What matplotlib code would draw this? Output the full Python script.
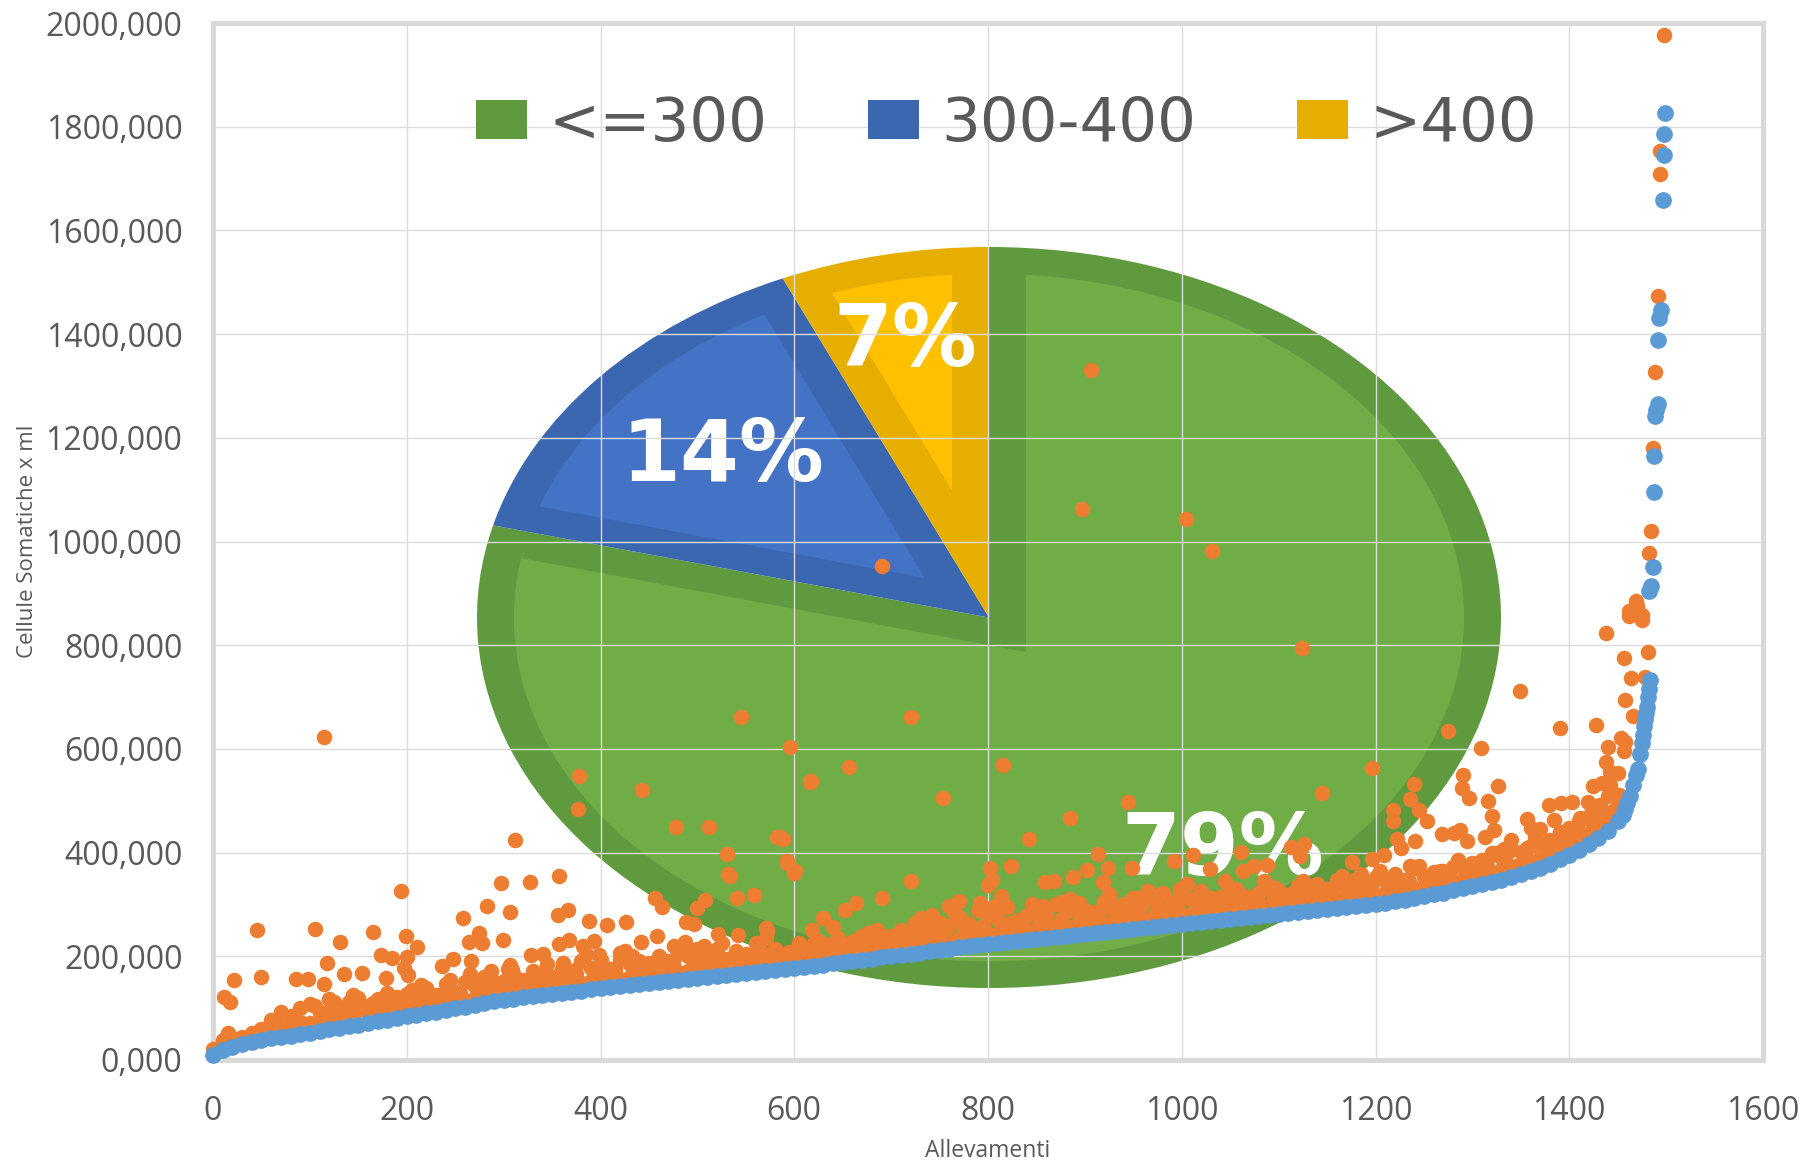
import matplotlib
matplotlib.use("Agg")
import numpy as np
import matplotlib.pyplot as plt
from matplotlib.patches import Wedge, Circle, Patch

W, H = 1805, 1163
plt.rcParams['font.family'] = ['Open Sans', 'DejaVu Sans']
GRAY = '#595959'

# ---------- data ----------
pie_labels = ['<=300', '300-400', '>400']
pie_values = [79, 14.4, 6.6]
pie_texts = ['79%', '14%', '7%']
xticks = [0, 200, 400, 600, 800, 1000, 1200, 1400, 1600]
yticks = [0, 200, 400, 600, 800, 1000, 1200, 1400, 1600, 1800, 2000]
ytick_labels = ['0,000', '200,000', '400,000', '600,000', '800,000', '1000,000',
                '1200,000', '1400,000', '1600,000', '1800,000', '2000,000']

# blue series: read every 10 herds along the curve
blue_main_y = [10, 19, 26, 31, 35, 39, 42, 45, 47, 50,
               53, 56, 59, 62, 65, 68, 71, 75, 78, 81,
               84, 87, 90, 93, 96, 100, 103, 106, 110, 113,
               116, 118, 121, 123, 125, 128, 130, 132, 134, 137,
               139, 141, 143, 145, 147, 149, 151, 152, 154, 156,
               158, 160, 162, 164, 166, 168, 170, 172, 174, 176,
               178, 180, 182, 184, 187, 189, 191, 193, 195, 198,
               200, 202, 205, 207, 210, 212, 214, 217, 219, 222,
               224, 226, 228, 230, 232, 234, 235, 237, 239, 241,
               243, 245, 247, 249, 251, 253, 255, 257, 259, 260,
               262, 264, 266, 268, 270, 272, 274, 276, 278, 280,
               282, 284, 286, 288, 289, 291, 293, 295, 297, 298,
               300, 303, 306, 309, 312, 316, 320, 323, 327, 331,
               335, 340, 344, 348, 352, 358, 364, 370, 378, 387,
               396, 405, 416, 428, 442, 460]
blue_main_x = list(range(0, 1460, 10))
blue_tail_x = [1455, 1458, 1460, 1463, 1466, 1469, 1471, 1473, 1475, 1476, 1477, 1478,
               1479, 1480, 1481, 1482, 1483, 1482, 1484, 1486, 1487.5, 1487.5, 1488, 1490,
               1492, 1492, 1493, 1495, 1496.5, 1497.5, 1497.5, 1499]
blue_tail_y = [472, 485, 495, 510, 530, 550, 562, 590, 612, 626, 645, 658,
               670, 680, 700, 715, 732, 905, 915, 951, 1096, 1165, 1243, 1254,
               1265, 1389, 1432, 1446, 1658, 1745, 1786, 1827]

# orange series: lower edge of the dense band
orange_low_y = [22, 38, 42, 44, 52, 60, 58, 66, 70, 74,
                72, 78, 84, 80, 86, 96, 90, 94, 100, 98,
                100, 106, 104, 108, 112, 118, 116, 120, 126, 128,
                132, 134, 136, 138, 142, 140, 144, 150, 148, 152,
                156, 158, 156, 160, 164, 166, 168, 166, 170, 172,
                176, 174, 178, 182, 182, 184, 186, 190, 188, 192,
                194, 196, 198, 200, 204, 204, 206, 210, 210, 214,
                216, 220, 222, 222, 226, 230, 230, 234, 236, 240,
                242, 244, 244, 248, 248, 252, 254, 252, 256, 258,
                260, 264, 262, 266, 270, 268, 272, 276, 276, 278,
                280, 282, 286, 284, 288, 292, 290, 294, 298, 298,
                300, 304, 302, 306, 310, 308, 312, 314, 316, 316,
                318, 322, 324, 328, 332, 336, 340, 342, 346, 350,
                352, 358, 362, 366, 370, 376, 382, 390, 398, 406,
                414, 424, 436, 450, 468, 490]
orange_low_x = list(range(0, 1460, 10))
# orange series: irregular upper edge of the dense band
orange_high_y = [78, 92, 85, 100,
                 108, 92, 118, 100, 112, 120, 104, 118, 130, 122,
                 128, 120, 138, 126, 146, 132, 150, 142, 160, 150,
                 152, 166, 155, 172, 168, 160, 175, 165, 190, 178,
                 192, 175, 195, 185, 190, 188, 200, 190, 205, 200,
                 215, 200, 215, 195, 210, 205, 225, 200, 215, 205,
                 205, 210, 225, 215, 225, 222, 228, 240, 230, 235,
                 240, 250, 245, 258, 252, 265, 258, 275, 262, 290,
                 280, 272, 295, 270, 280, 290, 282, 300, 285, 292,
                 290, 285, 305, 290, 300, 312, 300, 310, 320, 305,
                 322, 310, 325, 312, 315, 330, 320, 315, 322, 335,
                 325, 318, 335, 322, 340, 330, 345, 335, 350, 340,
                 352, 345, 358, 348, 370, 355, 362, 365, 372, 375,
                 380, 385, 395, 392, 405, 402, 412, 418, 425, 440,
                 445, 460, 470, 490, 510]
orange_high_x = list(range(60, 1450, 10))
# orange series: extra points inside the dense band
orange_fill_y = [105, 112, 125, 110, 122, 135, 112, 155, 165, 135,
                 175, 150, 185, 155, 205, 165, 210, 175, 190, 215,
                 190, 225, 190, 210, 200, 225, 205, 235, 220, 250,
                 225, 265, 240, 285, 255, 295, 265, 300, 265, 310,
                 275, 320, 280, 325, 290, 340, 300, 345, 300, 345,
                 315, 345, 320, 355, 330, 365, 340, 375, 345, 385,
                 360, 400, 375, 430, 400, 440, 455, 480]
orange_fill_x = list(range(105, 1446, 20))
orange_fill2_y = [90, 98, 100, 108, 112, 118, 125, 130, 140, 145,
                  152, 155, 160, 165, 170, 175, 180, 183, 186, 190,
                  193, 196, 200, 205, 208, 214, 218, 222, 226, 232,
                  238, 242, 248, 252, 258, 262, 266, 270, 272, 278,
                  282, 285, 290, 294, 298, 302, 306, 310, 314, 318,
                  322, 326, 328, 332, 336, 340, 346, 352, 358, 366,
                  374, 382, 392, 404, 418, 436, 462, 500]
orange_fill2_x = list(range(115, 1456, 20))
# orange series: points scattered left of x = 600
orange_left_x = [115, 45, 22, 50, 11, 18, 15, 105, 131, 118, 86, 98, 135, 115, 154, 165, 199, 211,
                 173, 185, 200, 197, 201, 194, 312, 297, 327, 357, 283, 307, 258, 356, 366, 388,
                 407, 426, 275, 264, 278, 299, 357, 367, 393, 382, 442, 458, 456, 463, 508, 500,
                 443, 377, 478, 512, 585, 531, 532, 541, 558, 488, 496, 521, 542, 476, 487, 507,
                 328, 341, 307, 309, 236, 248, 266, 287, 179, 215, 571, 571, 361, 374, 398, 420,
                 433, 463, 378, 545, 596, 588, 592, 600, 534]
orange_left_y = [622, 250, 155, 161, 121, 112, 52, 253, 228, 188, 157, 156, 166, 147, 168, 246, 239, 217,
                 203, 197, 199, 177, 164, 326, 425, 342, 344, 354, 297, 285, 274, 279, 290, 269,
                 260, 266, 245, 228, 225, 232, 223, 232, 229, 219, 228, 239, 313, 295, 308, 294,
                 521, 485, 450, 450, 431, 398, 358, 312, 319, 266, 263, 243, 242, 219, 228, 219,
                 203, 205, 184, 174, 181, 194, 190, 171, 158, 145, 255, 235, 187, 174, 203, 206,
                 201, 193, 548, 661, 604, 426, 380, 360, 355]
# orange series: points scattered between x = 600 and x = 1210
orange_mid_x = [906, 897, 1004, 1031, 1124, 691, 721, 616, 656, 815, 1196, 617, 754, 944, 1145, 885,
                842, 914, 1012, 992, 1061, 1113, 1126, 1122, 1176, 1196, 949, 1029, 1063, 1075, 1088,
                924, 902, 888, 919, 859, 868, 802, 824, 804, 800, 721, 691, 664, 652, 630, 640, 618,
                626, 601, 593, 582, 1056, 1096, 1122, 1160, 1185, 998, 981, 953, 926, 876, 894, 847,
                857, 813, 818, 792, 770, 760, 742, 731, 709, 676, 664, 572]
orange_mid_y = [1330, 1063, 1043, 981, 795, 952, 661, 537, 566, 568, 564, 539, 506, 497, 514, 466,
                427, 398, 395, 384, 401, 410, 416, 393, 381, 387, 371, 368, 364, 374, 376,
                371, 366, 353, 344, 344, 346, 370, 374, 348, 337, 346, 313, 303, 290, 274, 257, 250,
                229, 364, 384, 430, 329, 332, 332, 348, 358, 329, 322, 313, 306, 305, 303, 294,
                297, 316, 297, 303, 306, 297, 279, 274, 247, 245, 232, 248]
# orange series: points scattered right of x = 1205
orange_right_x = [1438, 1462, 1470, 1475, 1481, 1457, 1464, 1478, 1458, 1466, 1349, 1390, 1428, 1453,
                  1458, 1457, 1440, 1438, 1442, 1450, 1425, 1434, 1442, 1275, 1309, 1290, 1289, 1297,
                  1326, 1316, 1320, 1240, 1236, 1245, 1253, 1218, 1218, 1222, 1226, 1241, 1269, 1281,
                  1287, 1294, 1313, 1322, 1340, 1356, 1384, 1379, 1391, 1403, 1419, 1360, 1370, 1366,
                  1209, 1236, 1243, 1267, 1283, 1207, 1320, 1333, 1356, 1382, 1411, 1432, 1451, 1425,
                  1400, 1498, 1494, 1494, 1492, 1488, 1486, 1484, 1482, 1469, 1462, 1475]
orange_right_y = [824, 856, 875, 848, 787, 776, 736, 738, 695, 663, 712, 640, 647, 621,
                  613, 596, 604, 575, 556, 554, 528, 534, 530, 634, 601, 549, 524, 505,
                  529, 500, 470, 532, 503, 482, 461, 482, 460, 427, 409, 422, 436, 438,
                  444, 422, 431, 443, 425, 465, 463, 492, 495, 498, 498, 447, 445, 422,
                  396, 374, 371, 364, 377, 355, 399, 406, 409, 419, 466, 492, 511, 482,
                  447, 1977, 1753, 1708, 1473, 1326, 1181, 1021, 977, 885, 865, 858]

orange_x = (orange_low_x + orange_high_x + orange_fill_x + orange_fill2_x
            + orange_left_x + orange_mid_x + orange_right_x)
orange_y = (orange_low_y + orange_high_y + orange_fill_y + orange_fill2_y
            + orange_left_y + orange_mid_y + orange_right_y)
blue_x = blue_main_x + blue_tail_x
blue_y = blue_main_y + blue_tail_y

# ---------- figure ----------
fig = plt.figure(figsize=(W / 100, H / 100), dpi=100, facecolor='white')

def box(l, t, r, b):
    return [l / W, 1 - b / H, (r - l) / W, (b - t) / H]

# pie layer (stretched into an ellipse, sits beneath the scatter)
pax = fig.add_axes(box(477, 247, 1501, 988), zorder=0)
dark = ['#5F9A3E', '#3B66B0', '#E6AE00']
light = ['#70AD47', '#4472C4', '#FFC000']
wedges, _ = pax.pie(pie_values, colors=dark, startangle=90, counterclock=False, radius=1, frame=False)
pax.set_xlim(-1, 1)
pax.set_ylim(-1, 1)
pax.set_aspect('auto')
inset = 0.072
for w, c in zip(wedges, light):
    half = (w.theta2 - w.theta1) / 2
    mid = np.radians(w.theta1 + half)
    shift = inset / np.sin(np.radians(half if half <= 90 else 180 - half))
    cx, cy = shift * np.cos(mid), shift * np.sin(mid)
    inner = Wedge((cx, cy), 3, w.theta1, w.theta2, facecolor=c, edgecolor='none')
    pax.add_patch(inner)
    inner.set_clip_path(Circle((0, 0), 1 - inset, transform=pax.transData))
for txt, (tx, ty) in zip(pie_texts, [(0.456, -0.632), (-0.519, 0.431), (-0.164, 0.742)]):
    pax.text(tx, ty, txt, color='white', fontsize=61, fontweight='bold', family='DejaVu Sans',
             ha='center', va='center')

# scatter layer
ax = fig.add_axes(box(213, 23, 1763, 1060), zorder=1)
ax.patch.set_visible(False)
ax.set_xlim(0, 1600)
ax.set_ylim(0, 2000)
ax.scatter(orange_x, orange_y, s=125, color='#ED7D31', linewidths=0, zorder=3, clip_on=False)
ax.scatter(blue_x, blue_y, s=145, color='#5B9BD5', linewidths=0, zorder=4, clip_on=False)
ax.set_xticks(xticks)
ax.set_yticks(yticks)
ax.set_yticklabels(ytick_labels)
ax.grid(True, color='#DCDCDC', linewidth=1.0)
ax.set_axisbelow(True)
ax.tick_params(length=0, labelsize=23, labelcolor=GRAY)
ax.tick_params(axis='x', pad=25)
ax.tick_params(axis='y', pad=22)
for s in ax.spines.values():
    s.set_color('#D9D9D9')
    s.set_linewidth(3.6)
ax.set_xlabel('Allevamenti', fontsize=16.5, color=GRAY)
ax.set_ylabel('Cellule Somatiche x ml', fontsize=16, color=GRAY)
ax.xaxis.set_label_coords(0.5, 1 - (1139 - 23) / (1060 - 23))
ax.yaxis.set_label_coords((38 - 213) / (1763 - 213), 0.50)

# legend belonging to the pie
handles = [Patch(facecolor=c) for c in dark]
ax.legend(handles, pie_labels, loc='center', bbox_to_anchor=(0.512, 0.902), ncol=3, frameon=False,
          prop={'family': 'DejaVu Sans', 'size': 44}, labelcolor=GRAY, handlelength=0.83, handleheight=0.62,
          handletextpad=0.36, columnspacing=1.65, borderpad=0)

fig.savefig('out.png', dpi=100, facecolor='white')
